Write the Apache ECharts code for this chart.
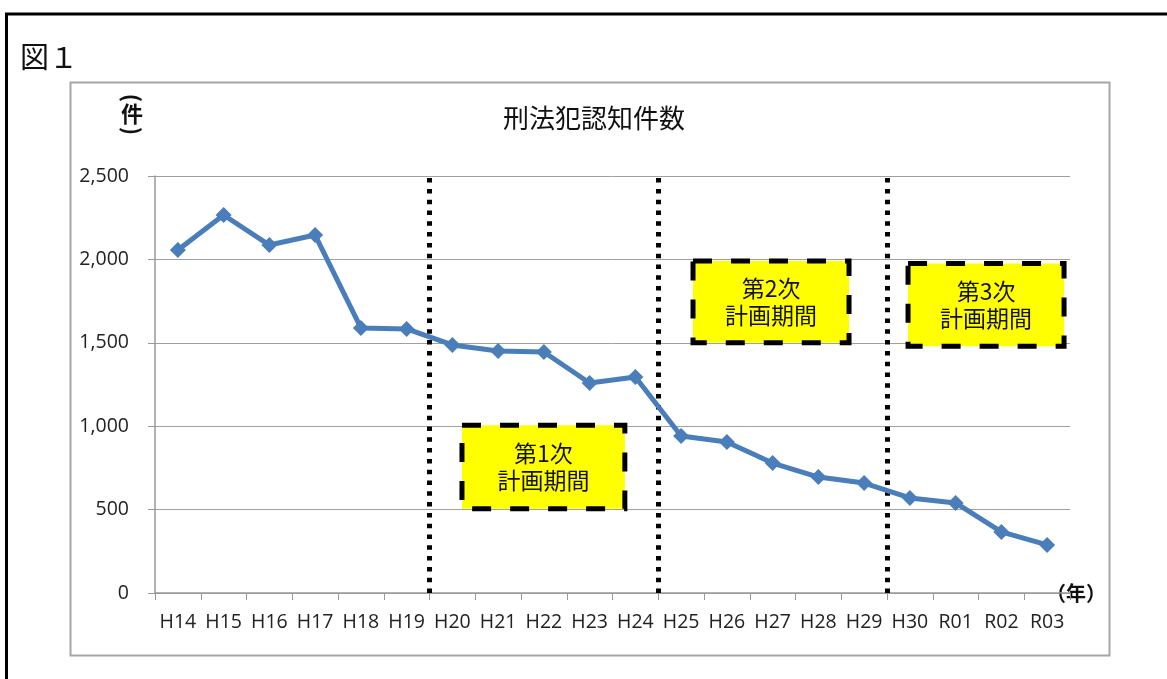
<!DOCTYPE html>
<html><head><meta charset="utf-8">
<script src="https://cdn.jsdelivr.net/npm/echarts@6/dist/echarts.min.js"></script>
<style>html,body{margin:0;padding:0;background:#fff}#c{width:1167px;height:679px}</style>
</head><body><div id="c"></div>
<script>
const categories = ['H14','H15','H16','H17','H18','H19','H20','H21','H22','H23','H24','H25','H26','H27','H28','H29','H30','R01','R02','R03'];
const counts = [2056,2266,2086,2146,1589,1583,1487,1451,1445,1259,1295,941,905,779,695,659,570,540,366,288];
const yTicks = {min:0, max:2500, interval:500};
const planBoundaries = [6, 11, 16]; // category index where each plan period starts
const planBoxes = [
  {label:'第1次\n計画期間', x0:6.71, x1:10.27, y0:505, y1:1005},
  {label:'第2次\n計画期間', x0:11.76, x1:15.17, y0:1500, y1:1990},
  {label:'第3次\n計画期間', x0:16.46, x1:19.87, y0:1480, y1:1975}
];
const title = '刑法犯認知件数';
const figLabel = '図１';
const yUnit = ['(','件',')'];
const xUnit = '（年）';

const chart = echarts.init(document.getElementById('c'), null, {renderer:'canvas'});
const jp = '"Noto Sans CJK JP", "Noto Sans", sans-serif';
const num = '"Open Sans", "DejaVu Sans", sans-serif';
chart.setOption({
  animation:false,
  backgroundColor:'#fff',
  title:{text:title, left:589, top:100, textAlign:'center',
    textStyle:{fontFamily:jp, fontSize:26, fontWeight:'normal', color:'#111'}},
  grid:{left:155, right:97, top:176, bottom:86, containLabel:false},
  xAxis:[{
    type:'category', data:categories, boundaryGap:true,
    axisLine:{lineStyle:{color:'#999', width:1.5}},
    axisTick:{show:true, length:7, alignWithLabel:false, lineStyle:{color:'#999'}},
    axisLabel:{fontFamily:num, fontSize:19.5, color:'#222', margin:19, interval:0},
    name:xUnit, nameLocation:'end', nameGap:-24,
    nameTextStyle:{fontFamily:jp, fontSize:20, color:'#111', fontWeight:'bold', padding:[0,0,10,0]}
  },{
    type:'value', min:0, max:categories.length, show:false
  }],
  yAxis:{
    type:'value', min:yTicks.min, max:yTicks.max, interval:yTicks.interval,
    axisLine:{show:true, lineStyle:{color:'#999', width:1.5}},
    axisTick:{show:true, length:7, inside:false, lineStyle:{color:'#999'}},
    axisLabel:{fontFamily:num, fontSize:19.5, color:'#222', margin:26,
      formatter:v=>v.toLocaleString('en-US')},
    splitLine:{lineStyle:{color:'#a0a0a0', width:1}}
  },
  graphic:[
    {type:'line', shape:{x1:5, y1:14, x2:1167, y2:14}, style:{stroke:'#000', lineWidth:3}, z:100},
    {type:'line', shape:{x1:6.5, y1:13, x2:6.5, y2:679}, style:{stroke:'#000', lineWidth:3}, z:100},
    {type:'rect', shape:{x:70.5, y:82.5, width:1039, height:573}, style:{fill:'none', stroke:'#a6a6a6', lineWidth:2}, z:-1},
    {type:'text', x:20, y:57, style:{text:figLabel, font:'29px '+jp, fill:'#111', verticalAlign:'middle'}},
    {type:'text', x:132, y:98, rotation:-Math.PI/2, style:{text:yUnit[0], font:'bold 22px '+jp, fill:'#111', align:'center', verticalAlign:'middle'}},
    {type:'text', x:132, y:114, style:{text:yUnit[1], font:'bold 22px '+jp, fill:'#111', align:'center', verticalAlign:'middle'}},
    {type:'text', x:132, y:131, rotation:-Math.PI/2, style:{text:yUnit[2], font:'bold 22px '+jp, fill:'#111', align:'center', verticalAlign:'middle'}}
  ],
  series:[{
    type:'line', data:counts, xAxisIndex:0,
    symbol:'diamond', symbolSize:16,
    lineStyle:{color:'#4a7ebb', width:5},
    itemStyle:{color:'#4a7ebb'},
    z:5
  },{
    type:'line', data:[], xAxisIndex:1,
    markLine:{symbol:'none', silent:true, label:{show:false},
      lineStyle:{color:'#000', width:5, type:[4.5,6.3], cap:'butt'},
      data:planBoundaries.map(b=>[{coord:[b,0]},{coord:[b,2500]}])},
    markArea:{silent:true,
      itemStyle:{color:'#ffff00', borderColor:'#000', borderWidth:5, borderType:[19,19]},
      label:{show:true, position:'inside', fontFamily:jp, fontSize:23, lineHeight:27, color:'#111'},
      data:planBoxes.map(p=>[{name:p.label, coord:[p.x0,p.y1]},{coord:[p.x1,p.y0]}])},
    z:3
  }]
});
</script></body></html>
